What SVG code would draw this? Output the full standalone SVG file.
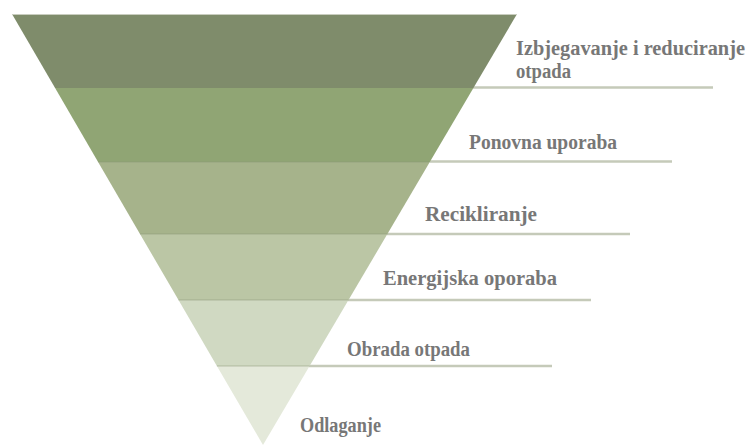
<svg xmlns="http://www.w3.org/2000/svg" width="748" height="448" viewBox="0 0 748 448">
<style>
.lbl{font-family:"Liberation Serif","Times New Roman",serif;font-weight:bold;font-size:20px;fill:#777777}
.ln{stroke:#c5cab9;stroke-width:2.5;fill:none}
.sep{stroke:#8a9677;stroke-width:1;opacity:0.5}
</style>
<rect width="748" height="448" fill="#ffffff"/>
<g id="connectors">
<line class="ln" x1="473" y1="87.5" x2="713" y2="87.5"/>
<line class="ln" x1="430" y1="161.5" x2="672" y2="161.5"/>
<line class="ln" x1="387" y1="234" x2="630" y2="234"/>
<line class="ln" x1="348" y1="300" x2="591" y2="300"/>
<line class="ln" x1="309" y1="366" x2="552" y2="366"/>
</g>
<g id="level1">
<polygon points="12,14 517,14 473.4,88 55.1,88" fill="#7f8c6b"/>
<line x1="12" y1="14.5" x2="517" y2="14.5" stroke="#c9cdbf" stroke-width="1"/>
<text class="lbl" x="516" y="55" textLength="229" lengthAdjust="spacingAndGlyphs">Izbjegavanje i reduciranje</text>
<text class="lbl" x="516" y="78" textLength="55" lengthAdjust="spacingAndGlyphs">otpada</text>
</g>
<g id="level2">
<polygon points="55.1,88 473.4,88 429.8,162 98.1,162" fill="#90a574"/>
<text class="lbl" x="469" y="149" textLength="148" lengthAdjust="spacingAndGlyphs">Ponovna uporaba</text>
</g>
<g id="level3">
<polygon points="98.1,162 429.8,162 387.4,234 140,234" fill="#a6b38b"/>
<line class="sep" x1="98.1" y1="162" x2="429.8" y2="162"/>
<text class="lbl" x="425" y="221" textLength="112" lengthAdjust="spacingAndGlyphs">Recikliranje</text>
</g>
<g id="level4">
<polygon points="140,234 387.4,234 348.5,300 178.5,300" fill="#bbc6a5"/>
<line class="sep" x1="140" y1="234" x2="387.4" y2="234"/>
<text class="lbl" x="383" y="285" textLength="174" lengthAdjust="spacingAndGlyphs">Energijska oporaba</text>
</g>
<g id="level5">
<polygon points="178.5,300 348.5,300 309.6,366 216.9,366" fill="#d0d9c2"/>
<line class="sep" x1="178.5" y1="300" x2="348.5" y2="300"/>
<text class="lbl" x="347" y="356" textLength="123" lengthAdjust="spacingAndGlyphs">Obrada otpada</text>
</g>
<g id="level6">
<polygon points="216.9,366 309.6,366 263,445" fill="#e4e9da"/>
<line class="sep" x1="216.9" y1="366" x2="309.6" y2="366"/>
<text class="lbl" x="300" y="432" textLength="81" lengthAdjust="spacingAndGlyphs">Odlaganje</text>
</g>
</svg>
